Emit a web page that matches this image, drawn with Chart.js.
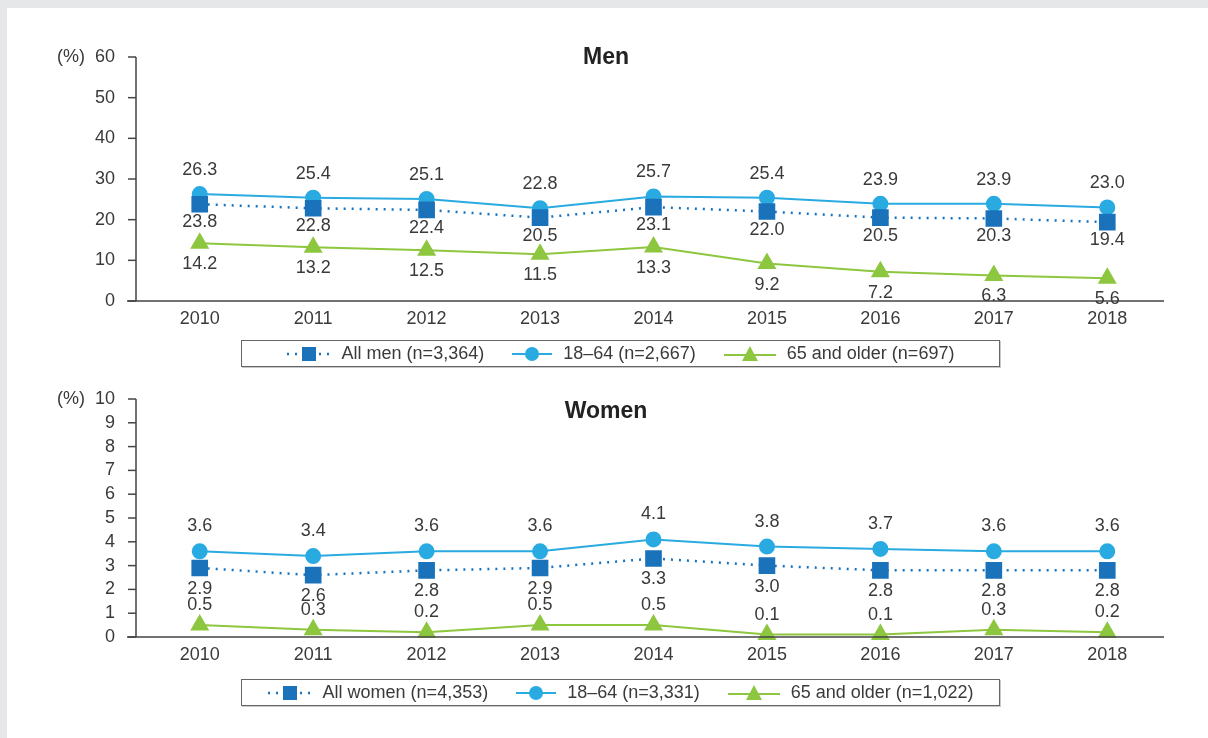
<!DOCTYPE html>
<html>
<head>
<meta charset="utf-8">
<script src="https://cdn.jsdelivr.net/npm/chart.js@4.4.0/dist/chart.umd.min.js"></script>
<style>
  html, body { margin: 0; padding: 0; }
  body { width: 1208px; height: 738px; background: #e6e7e9; position: relative; overflow: hidden;
         font-family: "Liberation Sans", Arial, sans-serif; }
  #panel { position: absolute; left: 7px; top: 8px; right: 0; bottom: 0; background: #fff; }
  canvas { position: absolute; left: 0; }
  #c1 { top: 0; }
  #c2 { top: 340px; }
  .legend { position: absolute; left: 241px; width: 757px; height: 25px; border: 1px solid #666;
            box-shadow: 1px 1px 0 #c8c8c8; display: flex; align-items: center; justify-content: center;
            font-size: 18px; color: #3a3a3a; background: #fff; }
  .legend span { display: inline-flex; align-items: center; margin: 0 14px; }
  .legend svg { margin-right: 11px; }
</style>
</head>
<body>
<div id="panel"></div>
<canvas id="c1" width="1208" height="340"></canvas>
<canvas id="c2" width="1208" height="398"></canvas>
<div class="legend" id="leg1" style="top:340px"></div>
<div class="legend" id="leg2" style="top:679px"></div>
<script>
"use strict";

// ---- data ----
var years = ['2010', '2011', '2012', '2013', '2014', '2015', '2016', '2017', '2018'];

var menAll   = [23.8, 22.8, 22.4, 20.5, 23.1, 22.0, 20.5, 20.3, 19.4];
var menYoung = [26.3, 25.4, 25.1, 22.8, 25.7, 25.4, 23.9, 23.9, 23.0];
var menOld   = [14.2, 13.2, 12.5, 11.5, 13.3, 9.2, 7.2, 6.3, 5.6];

var womenAll   = [2.9, 2.6, 2.8, 2.9, 3.3, 3.0, 2.8, 2.8, 2.8];
var womenYoung = [3.6, 3.4, 3.6, 3.6, 4.1, 3.8, 3.7, 3.6, 3.6];
var womenOld   = [0.5, 0.3, 0.2, 0.5, 0.5, 0.1, 0.1, 0.3, 0.2];

var menTicks   = [0, 10, 20, 30, 40, 50, 60];
var womenTicks = [0, 1, 2, 3, 4, 5, 6, 7, 8, 9, 10];

var menLegend   = ['All men (n=3,364)', '18\u201364 (n=2,667)', '65 and older (n=697)'];
var womenLegend = ['All women (n=4,353)', '18\u201364 (n=3,331)', '65 and older (n=1,022)'];

var DARK = '#1a72bb', LIGHT = '#29abe2', GREEN = '#8dc63f';
var TEXT = '#3a3a3a';
var FONT = '"Liberation Sans", Arial, sans-serif';

/*---------------------------------------------------
  Axes, tick labels, titles and value labels
---------------------------------------------------*/
var framePlugin = {
    id: 'frame',
    afterDatasetsDraw: function (chart) {
        var o = chart.options.plugins.frame;
        var ctx = chart.ctx, a = chart.chartArea;
        var ys = chart.scales.y, xs = chart.scales.x;
        var axisX = a.left - 7;
        ctx.save();
        ctx.strokeStyle = '#444';
        ctx.lineWidth = 1.5;
        ctx.beginPath();
        ctx.moveTo(axisX, ys.getPixelForValue(o.ticks[o.ticks.length - 1]));
        ctx.lineTo(axisX, a.bottom);
        ctx.moveTo(a.left - 16, a.bottom);
        ctx.lineTo(a.right, a.bottom);
        ctx.stroke();

        ctx.fillStyle = TEXT;
        ctx.font = '18px ' + FONT;
        ctx.textBaseline = 'middle';
        o.ticks.forEach(function (v) {
            var y = ys.getPixelForValue(v);
            ctx.beginPath();
            ctx.moveTo(axisX - 8, y);
            ctx.lineTo(axisX, y);
            ctx.stroke();
            ctx.textAlign = 'right';
            ctx.fillText(String(v), axisX - 21, y);
        });
        ctx.textAlign = 'left';
        ctx.fillText('(%)', 57, ys.getPixelForValue(o.ticks[o.ticks.length - 1]));

        ctx.textAlign = 'center';
        chart.data.labels.forEach(function (lab, i) {
            ctx.fillText(lab, xs.getPixelForValue(i), a.bottom + 18);
        });

        // value labels
        chart.data.datasets.forEach(function (ds, di) {
            var meta = chart.getDatasetMeta(di);
            meta.data.forEach(function (pt, i) {
                ctx.fillText(ds.data[i].toFixed(1), pt.x, pt.y + ds.labelOffset);
            });
        });

        ctx.fillStyle = '#222';
        ctx.font = 'bold 23px ' + FONT;
        ctx.fillText(o.title, chart.width / 2 + 2, o.titleY);
        ctx.restore();
    }
};

function makeChart(id, title, titleY, all, young, old, ticks, pad, offs) {
    return new Chart(document.getElementById(id), {
        type: 'line',
        data: {
            labels: years,
            datasets: [
                { data: old, borderColor: GREEN, backgroundColor: GREEN, borderWidth: 2,
                  pointStyle: 'triangle', pointRadius: 9, labelOffset: offs[2] },
                { data: all, borderColor: DARK, backgroundColor: DARK, borderWidth: 2.5,
                  borderDash: [2, 6], pointStyle: 'rect', pointRadius: 10, labelOffset: offs[0] },
                { data: young, borderColor: LIGHT, backgroundColor: LIGHT, borderWidth: 2,
                  pointStyle: 'circle', pointRadius: 7, labelOffset: offs[1] }
            ]
        },
        options: {
            responsive: false,
            animation: false,
            events: [],
            clip: false,
            layout: { padding: pad },
            elements: { line: { tension: 0 }, point: { borderWidth: 0 } },
            scales: {
                x: { type: 'category', offset: true, display: false },
                y: { min: ticks[0], max: ticks[ticks.length - 1], display: false }
            },
            plugins: {
                legend: { display: false },
                tooltip: { enabled: false },
                frame: { ticks: ticks, title: title, titleY: titleY }
            }
        },
        plugins: [framePlugin]
    });
}

makeChart('c1', 'Men', 58, menAll, menYoung, menOld, menTicks,
    { left: 143, right: 44, top: 57, bottom: 39 }, [18, -24, 21]);
makeChart('c2', 'Women', 72, womenAll, womenYoung, womenOld, womenTicks,
    { left: 143, right: 44, top: 59, bottom: 101 }, [21, -25, -20]);

/*---------------------------------------------------
  Legends
---------------------------------------------------*/
var symAll = '<svg width="44" height="16"><line x1="0" y1="8" x2="44" y2="8" stroke="' + DARK +
    '" stroke-width="2.5" stroke-dasharray="2,6"/><rect x="15" y="1" width="14" height="14" fill="' + DARK + '"/></svg>';
var symYoung = '<svg width="40" height="16"><line x1="0" y1="8" x2="40" y2="8" stroke="' + LIGHT +
    '" stroke-width="2"/><circle cx="20" cy="8" r="7" fill="' + LIGHT + '"/></svg>';
var symOld = '<svg width="52" height="16"><line x1="0" y1="9" x2="52" y2="9" stroke="' + GREEN +
    '" stroke-width="2"/><polygon points="26,0 34,15 18,15" fill="' + GREEN + '"/></svg>';

function fillLegend(id, labels) {
    var syms = [symAll, symYoung, symOld];
    document.getElementById(id).innerHTML = labels.map(function (l, i) {
        return '<span>' + syms[i] + l + '</span>';
    }).join('');
}
fillLegend('leg1', menLegend);
fillLegend('leg2', womenLegend);
</script>
</body>
</html>
